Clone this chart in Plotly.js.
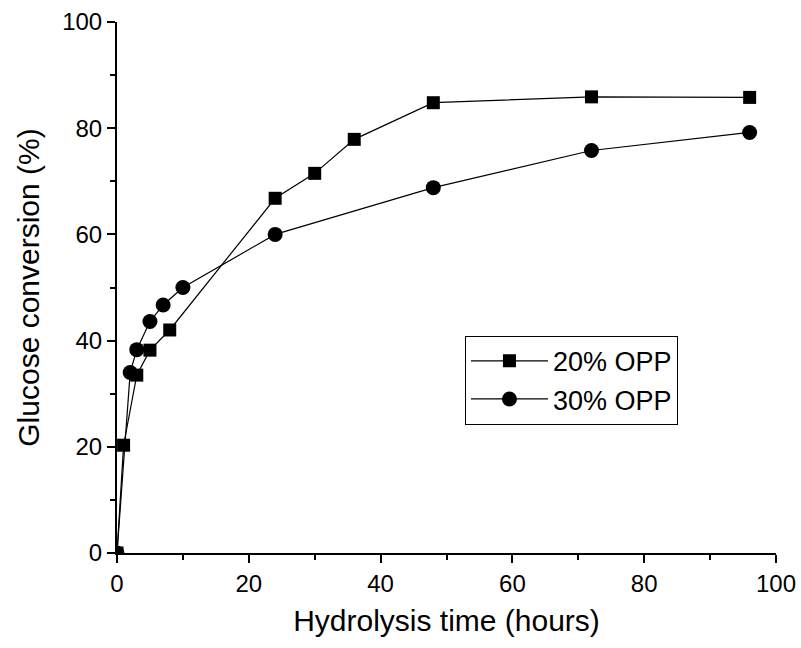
<!DOCTYPE html>
<html><head><meta charset="utf-8">
<script src="https://cdn.plot.ly/plotly-3.0.1.min.js"></script>
<style>body{margin:0;background:#fff}</style>
</head><body>
<div id="chart" style="width:801px;height:648px"></div>
<script>
const timeA = [0, 1, 3, 5, 8, 24, 30, 36, 48, 72, 96];
const opp20 = [0, 20.3, 33.5, 38.2, 42, 66.8, 71.5, 77.9, 84.8, 85.9, 85.8];
const timeB = [0, 2, 3, 5, 7, 10, 24, 48, 72, 96];
const opp30 = [0, 34, 38.3, 43.6, 46.7, 50, 60, 68.8, 75.8, 79.2];
const seriesNames = ["20% OPP", "30% OPP"];

const FONT = "Liberation Sans, Arial, sans-serif";
const data = [
  {x: timeA, y: opp20, name: seriesNames[0], mode: "lines+markers", type: "scatter",
   line: {color: "#000", width: 1.2}, marker: {symbol: "square", size: 13, color: "#000"}, cliponaxis: true},
  {x: timeB, y: opp30, name: seriesNames[1], mode: "lines+markers", type: "scatter",
   line: {color: "#000", width: 1.2}, marker: {symbol: "circle", size: 15, color: "#000"}, cliponaxis: true}
];
const axisCommon = {
  showgrid: false, zeroline: false, showline: true, linecolor: "#000", linewidth: 2,
  ticks: "outside", ticklen: 8, tickwidth: 2, tickcolor: "#000",
  tickfont: {family: FONT, size: 24, color: "#000"},
  dtick: 20, tick0: 0,
  minor: {ticks: "outside", ticklen: 5, tickwidth: 2, tickcolor: "#000", dtick: 10}
};
const layout = {
  width: 801, height: 648,
  margin: {l: 117, r: 25, t: 22, b: 95},
  paper_bgcolor: "#fff", plot_bgcolor: "#fff",
  showlegend: true,
  legend: {x: 0.528, y: 0.409, xanchor: "left", yanchor: "top", bordercolor: "#000", borderwidth: 1,
           bgcolor: "#fff", itemwidth: 77, tracegroupgap: 0,
           font: {family: FONT, size: 27, color: "#000"}},
  xaxis: Object.assign({}, axisCommon, {range: [0, 100],
    title: {text: "Hydrolysis time (hours)", font: {family: FONT, size: 30, color: "#000"}, standoff: 14}}),
  yaxis: Object.assign({}, axisCommon, {range: [0, 100],
    title: {text: "Glucose conversion (%)", font: {family: FONT, size: 30, color: "#000"}, standoff: 14}})
};
Plotly.newPlot("chart", data, layout, {displayModeBar: false});
</script>
</body></html>
